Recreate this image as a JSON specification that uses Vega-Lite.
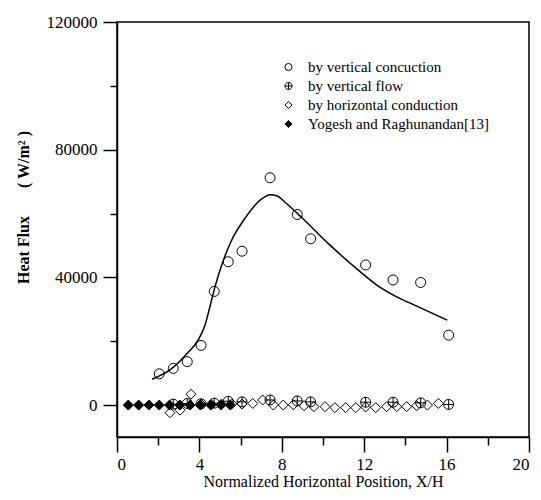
{
  "$schema": "https://vega.github.io/schema/vega-lite/v6.json",
  "width": 412,
  "height": 415,
  "autosize": "none",
  "padding": {"left": 117, "top": 22, "right": 12, "bottom": 63},
  "background": "white",
  "config": {
    "font": "Liberation Serif",
    "view": {"stroke": "black", "strokeWidth": 1.5},
    "axis": {"grid": false, "domainColor": "black", "domainWidth": 1.5, "tickColor": "black", "tickWidth": 1.5, "labelColor": "black", "titleColor": "black", "labelFont": "Liberation Serif", "titleFont": "Liberation Serif", "labelFontSize": 14}
  },
  "datasets": {
    "curve": [
      {"x": 1.7, "y": 8100}, {"x": 2.57, "y": 11000}, {"x": 3.38, "y": 16000}, {"x": 3.95, "y": 20500},
      {"x": 4.27, "y": 25000}, {"x": 4.51, "y": 30800}, {"x": 4.76, "y": 37100}, {"x": 5.08, "y": 43800}, {"x": 5.57, "y": 51700}, {"x": 6.21, "y": 58500},
      {"x": 7.02, "y": 64600}, {"x": 7.45, "y": 65900}, {"x": 7.75, "y": 65600}, {"x": 8.2, "y": 63300}, {"x": 9.04, "y": 58300},
      {"x": 10.34, "y": 50100}, {"x": 11.8, "y": 41800}, {"x": 12.61, "y": 37600}, {"x": 13.58, "y": 33900},
      {"x": 14.55, "y": 31000}, {"x": 16.03, "y": 26600}
    ],
    "pts": [
      {"series": "by horizontal conduction", "x": 2.57, "y": -2400},
      {"series": "by horizontal conduction", "x": 3.06, "y": -1600},
      {"series": "by horizontal conduction", "x": 3.59, "y": 3400},
      {"series": "by horizontal conduction", "x": 4.08, "y": 300},
      {"series": "by horizontal conduction", "x": 4.57, "y": 200},
      {"series": "by horizontal conduction", "x": 5.07, "y": 300},
      {"series": "by horizontal conduction", "x": 5.57, "y": 400},
      {"series": "by horizontal conduction", "x": 6.07, "y": 300},
      {"series": "by horizontal conduction", "x": 6.59, "y": 500},
      {"series": "by horizontal conduction", "x": 7.07, "y": 1600},
      {"series": "by horizontal conduction", "x": 7.59, "y": 0},
      {"series": "by horizontal conduction", "x": 8.07, "y": 0},
      {"series": "by horizontal conduction", "x": 8.56, "y": 100},
      {"series": "by horizontal conduction", "x": 9.08, "y": -200},
      {"series": "by horizontal conduction", "x": 9.56, "y": -500},
      {"series": "by horizontal conduction", "x": 10.1, "y": -500},
      {"series": "by horizontal conduction", "x": 10.58, "y": -800},
      {"series": "by horizontal conduction", "x": 11.1, "y": -800},
      {"series": "by horizontal conduction", "x": 11.59, "y": -800},
      {"series": "by horizontal conduction", "x": 12.07, "y": -600},
      {"series": "by horizontal conduction", "x": 12.56, "y": -800},
      {"series": "by horizontal conduction", "x": 13.09, "y": -500},
      {"series": "by horizontal conduction", "x": 13.58, "y": -500},
      {"series": "by horizontal conduction", "x": 14.06, "y": -500},
      {"series": "by horizontal conduction", "x": 14.55, "y": -200},
      {"series": "by horizontal conduction", "x": 15.07, "y": 0},
      {"series": "by horizontal conduction", "x": 15.6, "y": 500},
      {"series": "Yogesh and Raghunandan[13]", "x": 0.55, "y": 0},
      {"series": "Yogesh and Raghunandan[13]", "x": 1.05, "y": 0},
      {"series": "Yogesh and Raghunandan[13]", "x": 1.55, "y": 0},
      {"series": "Yogesh and Raghunandan[13]", "x": 2.05, "y": 0},
      {"series": "Yogesh and Raghunandan[13]", "x": 2.55, "y": 0},
      {"series": "Yogesh and Raghunandan[13]", "x": 3.05, "y": 0},
      {"series": "Yogesh and Raghunandan[13]", "x": 3.55, "y": 0},
      {"series": "Yogesh and Raghunandan[13]", "x": 4.05, "y": 0},
      {"series": "Yogesh and Raghunandan[13]", "x": 4.55, "y": 0},
      {"series": "Yogesh and Raghunandan[13]", "x": 5.05, "y": 0},
      {"series": "Yogesh and Raghunandan[13]", "x": 5.5, "y": 0},
      {"series": "by vertical flow", "x": 2.73, "y": 300},
      {"series": "by vertical flow", "x": 3.41, "y": 500},
      {"series": "by vertical flow", "x": 4.08, "y": 400},
      {"series": "by vertical flow", "x": 4.72, "y": 600},
      {"series": "by vertical flow", "x": 5.4, "y": 1200},
      {"series": "by vertical flow", "x": 6.07, "y": 1000},
      {"series": "by vertical flow", "x": 7.43, "y": 1600},
      {"series": "by vertical flow", "x": 8.75, "y": 1300},
      {"series": "by vertical flow", "x": 9.4, "y": 1000},
      {"series": "by vertical flow", "x": 12.07, "y": 900},
      {"series": "by vertical flow", "x": 13.4, "y": 900},
      {"series": "by vertical flow", "x": 14.74, "y": 700},
      {"series": "by vertical flow", "x": 16.1, "y": 200},
      {"series": "by vertical concuction", "x": 2.05, "y": 9800},
      {"series": "by vertical concuction", "x": 2.73, "y": 11500},
      {"series": "by vertical concuction", "x": 3.41, "y": 13600},
      {"series": "by vertical concuction", "x": 4.08, "y": 18700},
      {"series": "by vertical concuction", "x": 4.72, "y": 35600},
      {"series": "by vertical concuction", "x": 5.4, "y": 44900},
      {"series": "by vertical concuction", "x": 6.07, "y": 48200},
      {"series": "by vertical concuction", "x": 7.43, "y": 71200},
      {"series": "by vertical concuction", "x": 8.75, "y": 59700},
      {"series": "by vertical concuction", "x": 9.4, "y": 52100},
      {"series": "by vertical concuction", "x": 12.07, "y": 43900},
      {"series": "by vertical concuction", "x": 13.4, "y": 39200},
      {"series": "by vertical concuction", "x": 14.74, "y": 38400},
      {"series": "by vertical concuction", "x": 16.1, "y": 21900}
    ]
  },
  "layer": [
    {
      "data": {"name": "curve"},
      "mark": {"type": "line", "color": "black", "strokeWidth": 1.5, "interpolate": "monotone"},
      "encoding": {
        "x": {"field": "x", "type": "quantitative", "scale": {"domain": [0, 20], "nice": false},
          "axis": {"values": [0, 2, 4, 6, 8, 10, 12, 14, 16, 18, 20], "format": "d",
            "labelExpr": "datum.value % 4 === 0 ? datum.label : ''",
            "tickSize": {"condition": {"test": "datum.value % 4 === 0", "value": 15}, "value": 8},
            "labelPadding": 4, "labelFontSize": 17,
            "title": "Normalized Horizontal Position, X/H", "titleFontSize": 16, "titleFontWeight": "normal", "titlePadding": 1}},
        "y": {"field": "y", "type": "quantitative", "scale": {"domain": [-10000, 120000], "nice": false, "zero": false},
          "axis": {"values": [0, 20000, 40000, 60000, 80000, 100000, 120000], "format": "d",
            "labelExpr": "datum.value % 40000 === 0 ? datum.label : ''",
            "tickSize": {"condition": {"test": "datum.value % 40000 === 0", "value": 14}, "value": 7},
            "labelPadding": 6, "labelFontSize": 17,
            "title": "Heat Flux\u00a0\u00a0\u00a0\u00a0\u00a0\u00a0\u00a0( W/m² )", "titleFontSize": 16, "titleFontWeight": "bold",
            "titleAngle": -90, "titleX": -94, "titleY": 185, "titleAlign": "center", "titleBaseline": "middle"}}
      }
    },
    {
      "data": {"name": "pts"},
      "mark": {"type": "point", "strokeWidth": 1, "opacity": 1},
      "encoding": {
        "x": {"field": "x", "type": "quantitative"},
        "y": {"field": "y", "type": "quantitative"},
        "shape": {"field": "series", "type": "nominal",
          "scale": {"domain": ["by vertical concuction", "by vertical flow", "by horizontal conduction", "Yogesh and Raghunandan[13]"],
            "range": ["circle", "M-1,0A1,1 0 1,0 1,0A1,1 0 1,0 -1,0M-1,0L1,0M0,-1L0,1", "diamond", "diamond"]},
          "legend": {"title": null, "orient": "none", "legendX": 164, "legendY": 37.5, "padding": 0,
            "symbolSize": 50, "symbolStrokeWidth": 1, "labelOffset": 12, "rowPadding": 3,
            "labelFont": "Liberation Serif", "labelFontSize": 15, "labelColor": "black", "labelLimit": 400}},
        "fill": {"field": "series", "type": "nominal",
          "scale": {"domain": ["by vertical concuction", "by vertical flow", "by horizontal conduction", "Yogesh and Raghunandan[13]"],
            "range": ["transparent", "transparent", "transparent", "black"]}},
        "stroke": {"field": "series", "type": "nominal",
          "scale": {"domain": ["by vertical concuction", "by vertical flow", "by horizontal conduction", "Yogesh and Raghunandan[13]"],
            "range": ["black", "black", "black", "black"]}},
        "size": {"value": 100}
      }
    }
  ]
}
